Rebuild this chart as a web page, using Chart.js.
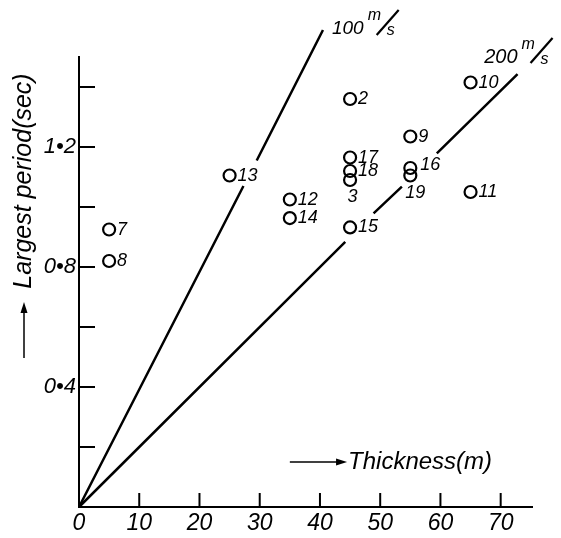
<!DOCTYPE html>
<html><head><meta charset="utf-8">
<script src="https://cdn.jsdelivr.net/npm/chart.js@4/dist/chart.umd.min.js"></script>
<style>html,body{margin:0;padding:0;background:#fff;} canvas{display:block;}</style>
</head><body>
<canvas id="c" width="561" height="538"></canvas>
<script>
// ---- data ----
const pointIds  = ['2','3','7','8','9','10','11','12','13','14','15','16','17','18','19'];
const thickness = [45, 45, 5, 5, 55, 65, 65, 35, 25, 35, 45, 55, 45, 45, 55];
const period    = [1.36, 1.09, 0.925, 0.82, 1.235, 1.415, 1.05, 1.025, 1.105, 0.963, 0.932, 1.13, 1.165, 1.12, 1.105];
const labelSide = ['right','below','right','right','right','right','right','right','right','right','right','upright','right','right','belowleft'];

const line100X = [0, 27.3, 28.4, 29.5, 40.5];
const line100Y = [0, 1.07, null, 1.155, 1.59];
const line200X = [0, 44.2, 46.5, 48.9, 53.6, 56.5, 59.4, 72.8];
const line200Y = [0, 0.884, null, 0.979, 1.068, null, 1.179, 1.443];
const lineNames = ['100', '200'];
const lineUnit = ['m', 's'];

const xTickValues = [0, 10, 20, 30, 40, 50, 60, 70];
const yTickValues = [0.2, 0.4, 0.6, 0.8, 1.0, 1.2, 1.4];
const yTickText   = ['', '0•4', '', '0•8', '', '1•2', ''];
const xTitle = 'Thickness(m)';
const yTitle = 'Largest period(sec)';

// ---- chart ----
const FAM = '"Liberation Sans", Arial, sans-serif';
const toXY = (xs, ys) => xs.map((x, i) => ({x: x, y: ys[i]}));

const labelOffsets = {
  right:     {dx: 8,   dy: 0,  align: 'left'},
  below:     {dx: 2.5, dy: 17, align: 'center'},
  upright:   {dx: 10,  dy: -3, align: 'left'},
  belowleft: {dx: -5,  dy: 17, align: 'left'}
};

function drawUnit(ctx, x, yc, u) {
  ctx.font = 'italic 16px ' + FAM;
  ctx.textAlign = 'left';
  ctx.textBaseline = 'middle';
  ctx.fillText(u[0], x + 4, yc - 13);
  ctx.fillText(u[1], x + 23, yc + 2);
  ctx.beginPath();
  ctx.lineWidth = 2.2;
  ctx.moveTo(x + 13, yc + 6);
  ctx.lineTo(x + 35, yc - 19);
  ctx.stroke();
}

const decor = {
  id: 'decor',
  afterDatasetsDraw(chart) {
    const ctx = chart.ctx;
    const xs = chart.scales.x, ys = chart.scales.y;
    const ca = chart.chartArea;
    ctx.save();
    ctx.strokeStyle = '#000';
    ctx.fillStyle = '#000';
    ctx.lineWidth = 2;
    // inward tick marks
    ys.ticks.forEach(t => {
      const py = ys.getPixelForValue(t.value);
      ctx.beginPath(); ctx.moveTo(ca.left, py); ctx.lineTo(ca.left + 16, py); ctx.stroke();
    });
    xs.ticks.forEach(t => {
      if (t.value === 0) return;
      const px = xs.getPixelForValue(t.value);
      ctx.beginPath(); ctx.moveTo(px, ca.bottom); ctx.lineTo(px, ca.bottom - 14); ctx.stroke();
    });
    // point labels
    ctx.font = 'italic 18px ' + FAM;
    ctx.textBaseline = 'middle';
    pointIds.forEach((id, i) => {
      const o = labelOffsets[labelSide[i]];
      const px = xs.getPixelForValue(thickness[i]);
      const py = ys.getPixelForValue(period[i]);
      ctx.textAlign = o.align;
      ctx.fillText(id, px + o.dx, py + o.dy);
    });
    // line labels
    {
      const n = line100X.length - 1;
      const px = xs.getPixelForValue(line100X[n]), py = ys.getPixelForValue(line100Y[n]);
      ctx.font = 'italic 19px ' + FAM;
      ctx.textAlign = 'left'; ctx.textBaseline = 'middle';
      const tx = px + 9, ty = py - 1;
      ctx.fillText(lineNames[0], tx, ty);
      drawUnit(ctx, tx + ctx.measureText(lineNames[0]).width, ty, lineUnit);
    }
    {
      const n = line200X.length - 1;
      const px = xs.getPixelForValue(line200X[n]), py = ys.getPixelForValue(line200Y[n]);
      ctx.font = 'italic 20px ' + FAM;
      ctx.textAlign = 'right'; ctx.textBaseline = 'middle';
      const ty = py - 17;
      ctx.fillText(lineNames[1], px, ty);
      drawUnit(ctx, px, ty, lineUnit);
    }
    // x title with arrow
    {
      const ax0 = xs.getPixelForValue(35), ax1 = xs.getPixelForValue(44.5);
      const ty = ys.getPixelForValue(0.15);
      ctx.lineWidth = 1.5;
      ctx.beginPath(); ctx.moveTo(ax0, ty); ctx.lineTo(ax1 - 8, ty); ctx.stroke();
      ctx.beginPath(); ctx.moveTo(ax1, ty); ctx.lineTo(ax1 - 11, ty - 3.5); ctx.lineTo(ax1 - 11, ty + 3.5); ctx.closePath(); ctx.fill();
      ctx.font = 'italic 24px ' + FAM;
      ctx.textAlign = 'left'; ctx.textBaseline = 'middle';
      ctx.fillText(xTitle, ax1 + 1, ty);
    }
    // y title with arrow
    {
      const cx = ca.left - 55;
      ctx.save();
      ctx.translate(cx, 181);
      ctx.rotate(-Math.PI / 2);
      ctx.font = 'italic 25px ' + FAM;
      ctx.textAlign = 'center'; ctx.textBaseline = 'middle';
      ctx.fillText(yTitle, 0, 0);
      ctx.restore();
      ctx.lineWidth = 1.5;
      ctx.beginPath(); ctx.moveTo(cx, 358); ctx.lineTo(cx, 310); ctx.stroke();
      ctx.beginPath(); ctx.moveTo(cx, 302); ctx.lineTo(cx - 3.5, 313); ctx.lineTo(cx + 3.5, 313); ctx.closePath(); ctx.fill();
    }
    ctx.restore();
  }
};

new Chart(document.getElementById('c'), {
  type: 'scatter',
  data: {
    datasets: [
      {
        data: toXY(thickness, period),
        pointRadius: 6,
        pointBorderWidth: 2.2,
        pointBorderColor: '#000',
        pointBackgroundColor: 'rgba(0,0,0,0)',
        showLine: false
      },
      {
        data: toXY(line100X, line100Y),
        showLine: true, spanGaps: false,
        borderColor: '#000', borderWidth: 2.5,
        pointRadius: 0, clip: false
      },
      {
        data: toXY(line200X, line200Y),
        showLine: true, spanGaps: false,
        borderColor: '#000', borderWidth: 2.5,
        pointRadius: 0, clip: false
      }
    ]
  },
  options: {
    responsive: false,
    animation: false,
    devicePixelRatio: 1,
    layout: {padding: {left: 0, top: 57, right: 29, bottom: 0}},
    plugins: {legend: {display: false}, tooltip: {enabled: false}},
    scales: {
      x: {
        type: 'linear', position: 'bottom', min: 0, max: 75.2,
        grid: {display: false, drawTicks: false},
        border: {display: true, color: '#000', width: 2},
        ticks: {
          color: '#000', font: {family: FAM, size: 23, style: 'italic'},
          padding: 3, autoSkip: false, maxRotation: 0,
          callback: v => String(v)
        },
        afterBuildTicks: s => { s.ticks = xTickValues.map(v => ({value: v})); },
        afterFit: s => { s.height = 31; }
      },
      y: {
        type: 'linear', position: 'left', min: 0, max: 1.5,
        grid: {display: false, drawTicks: false},
        border: {display: true, color: '#000', width: 2},
        ticks: {
          color: '#000', font: {family: FAM, size: 22, style: 'italic'},
          padding: 3, autoSkip: false,
          callback: (v, i) => yTickText[i]
        },
        afterBuildTicks: s => { s.ticks = yTickValues.map(v => ({value: v})); },
        afterFit: s => { s.width = 79; }
      }
    }
  },
  plugins: [decor]
});
</script>
</body></html>
